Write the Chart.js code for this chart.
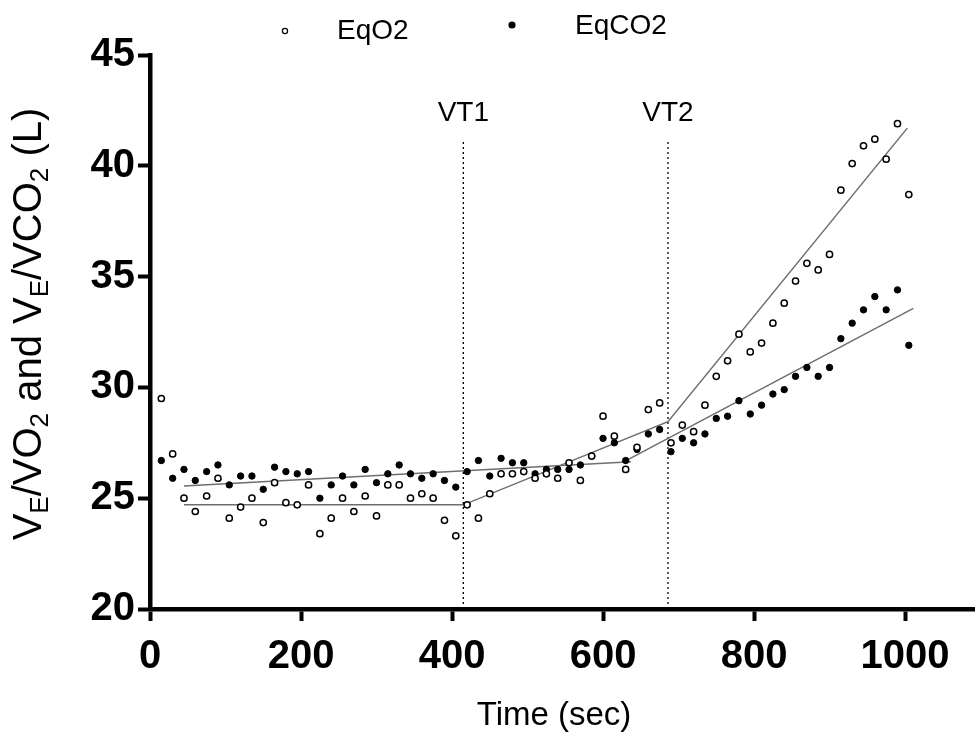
<!DOCTYPE html>
<html>
<head>
<meta charset="utf-8">
<script src="https://cdn.jsdelivr.net/npm/chart.js@4.4.1/dist/chart.umd.min.js"></script>
<style>
  html, body { margin: 0; padding: 0; background: #fff; }
  #wrap { width: 980px; height: 747px; position: relative; }
</style>
</head>
<body>
<div id="wrap"><canvas id="chart"></canvas></div>
<script>
// sample times (s)
const timeSec = [15, 30, 45, 60, 75, 90, 105, 120, 135, 150, 165, 180, 195, 210, 225, 240, 255, 270, 285, 300,
  315, 330, 345, 360, 375, 390, 405, 420, 435, 450, 465, 480, 495, 510, 525, 540, 555, 570, 585, 600,
  615, 630, 645, 660, 675, 690, 705, 720, 735, 750, 765, 780, 795, 810, 825, 840, 855, 870, 885, 900,
  915, 930, 945, 960, 975, 990, 1005];

const eqO2 = [29.5, 27.0, 25.0, 24.4, 25.1, 25.9, 24.1, 24.6, 25.0, 23.9, 25.7, 24.8, 24.7, 25.6, 23.4, 24.1, 25.0, 24.4, 25.1, 24.2,
  25.6, 25.6, 25.0, 25.2, 25.0, 24.0, 23.3, 24.7, 24.1, 25.2, 26.1, 26.1, 26.2, 25.9, 26.1, 25.9, 26.6, 25.8, 26.9, 28.7,
  27.8, 26.3, 27.3, 29.0, 29.3, 27.5, 28.3, 28.0, 29.2, 30.5, 31.2, 32.4, 31.6, 32.0, 32.9, 33.8, 34.8, 35.6, 35.3, 36.0,
  38.9, 40.1, 40.9, 41.2, 40.3, 41.9, 38.7];

const eqCO2 = [26.7, 25.9, 26.3, 25.8, 26.2, 26.5, 25.6, 26.0, 26.0, 25.4, 26.4, 26.2, 26.1, 26.2, 25.0, 25.6, 26.0, 25.6, 26.3, 25.7,
  26.1, 26.5, 26.1, 25.9, 26.1, 25.8, 25.5, 26.2, 26.7, 26.0, 26.8, 26.6, 26.6, 26.1, 26.3, 26.3, 26.3, 26.5, 26.9, 27.7,
  27.5, 26.7, 27.2, 27.9, 28.1, 27.1, 27.7, 27.5, 27.9, 28.6, 28.7, 29.4, 28.8, 29.2, 29.7, 29.9, 30.5, 30.9, 30.5, 30.9,
  32.2, 32.9, 33.5, 34.1, 33.5, 34.4, 31.9];

// piecewise fits
const eqO2FitX = [45, 415, 686, 1003];
const eqO2FitY = [24.7, 24.7, 28.45, 41.7];
const eqCO2FitX1 = [45, 637];
const eqCO2FitY1 = [25.55, 26.65];
const eqCO2FitX2 = [628, 1011];
const eqCO2FitY2 = [26.65, 33.57];

// ventilatory thresholds
const vtNames = ['VT1', 'VT2'];
const vtX = [415, 686];
const vtTop = 41.15;

const xTicks = [0, 200, 400, 600, 800, 1000];
const yTicks = [20, 25, 30, 35, 40, 45];

const pts = (xs, ys) => xs.map((x, i) => ({ x, y: ys[i] }));

const FIT = '#6e6e6e';
const fitLine = (xs, ys) => ({
  data: pts(xs, ys), showLine: true, borderColor: FIT, borderWidth: 1.5,
  pointRadius: 0, fill: false, order: 2,
});

const datasets = [
  { label: 'EqO2', data: pts(timeSec, eqO2), pointStyle: 'circle', pointRadius: 3.1,
    backgroundColor: '#fff', borderColor: '#000', borderWidth: 1.5, showLine: false, order: 0 },
  { label: 'EqCO2', data: pts(timeSec, eqCO2), pointStyle: 'circle', pointRadius: 3.2,
    backgroundColor: '#000', borderColor: '#000', borderWidth: 1, showLine: false, order: 0 },
  fitLine(eqO2FitX, eqO2FitY),
  fitLine(eqCO2FitX1, eqCO2FitY1),
  fitLine(eqCO2FitX2, eqCO2FitY2),
  ...vtX.map(x => ({
    data: [{ x, y: 20 }, { x, y: vtTop }], showLine: true, borderColor: '#000', borderWidth: 1.3,
    borderDash: [2, 3], pointRadius: 0, order: 3,
  })),
];

const yTitleParts = [['V', 0], ['E', 1], ['/VO', 0], ['2', 1], [' and V', 0], ['E', 1], ['/VCO', 0], ['2', 1], [' (L)', 0]];
const FONT = '"Liberation Sans", Arial';

const extras = {
  id: 'extras',
  afterDraw(chart) {
    const { ctx, scales: { x } } = chart;
    ctx.save();
    ctx.fillStyle = '#000';

    // y title with subscripts
    const main = 40, sub = 26;
    ctx.translate(30, 324);
    ctx.rotate(-Math.PI / 2);
    ctx.textBaseline = 'middle';
    let total = 0;
    yTitleParts.forEach(([t, s]) => { ctx.font = `${s ? sub : main}px ${FONT}`; total += ctx.measureText(t).width; });
    let cx = -total / 2;
    yTitleParts.forEach(([t, s]) => {
      ctx.font = `${s ? sub : main}px ${FONT}`;
      ctx.fillText(t, cx, s ? 11 : 0);
      cx += ctx.measureText(t).width;
    });
    ctx.setTransform(1, 0, 0, 1, 0, 0);

    // x title
    ctx.font = `33px ${FONT}`;
    ctx.textAlign = 'center';
    ctx.textBaseline = 'middle';
    ctx.fillText('Time (sec)', 554, 716);

    // VT labels
    ctx.font = `28px ${FONT}`;
    vtNames.forEach((n, i) => ctx.fillText(n, x.getPixelForValue(vtX[i]), 113));

    // legend
    const legend = [[285, 31, 337, 31], [512, 25, 575, 26]];
    ctx.textAlign = 'left';
    ctx.font = `28px ${FONT}`;
    legend.forEach(([mx, my, tx, ty], i) => {
      const ds = chart.data.datasets[i];
      ctx.beginPath();
      ctx.arc(mx, my, i ? 3 : 2.6, 0, Math.PI * 2);
      ctx.fillStyle = ds.backgroundColor;
      ctx.fill();
      ctx.lineWidth = 1.2;
      ctx.strokeStyle = ds.borderColor;
      ctx.stroke();
      ctx.fillStyle = '#000';
      ctx.fillText(ds.label, tx, ty);
    });
    ctx.restore();
  },
};

const tickFont = { family: FONT, size: 40, weight: 'bold' };
const axisGrid = { drawOnChartArea: false, drawTicks: true, tickLength: 12, tickWidth: 4, tickColor: '#000' };

new Chart(document.getElementById('chart'), {
  type: 'scatter',
  data: { datasets },
  options: {
    responsive: true, maintainAspectRatio: false, animation: false,
    layout: { padding: { top: 55, left: 0, right: 0, bottom: 0 } },
    plugins: { legend: { display: false }, tooltip: { enabled: false } },
    scales: {
      x: {
        type: 'linear', min: 0, max: 1092,
        afterBuildTicks: s => { s.ticks = xTicks.map(v => ({ value: v })); },
        afterFit: s => { s.height = 138; },
        ticks: { font: tickFont, color: '#000', padding: 12, maxRotation: 0, autoSkip: false, callback: v => String(v) },
        grid: axisGrid,
        border: { color: '#000', width: 4.5 },
      },
      y: {
        type: 'linear', min: 20, max: 45,
        afterBuildTicks: s => { s.ticks = yTicks.map(v => ({ value: v })); },
        afterFit: s => { s.width = 150; },
        ticks: { font: tickFont, color: '#000', padding: 3, autoSkip: false, callback: v => String(v) },
        grid: axisGrid,
        border: { color: '#000', width: 4.5 },
      },
    },
  },
  plugins: [extras],
});
</script>
</body>
</html>
